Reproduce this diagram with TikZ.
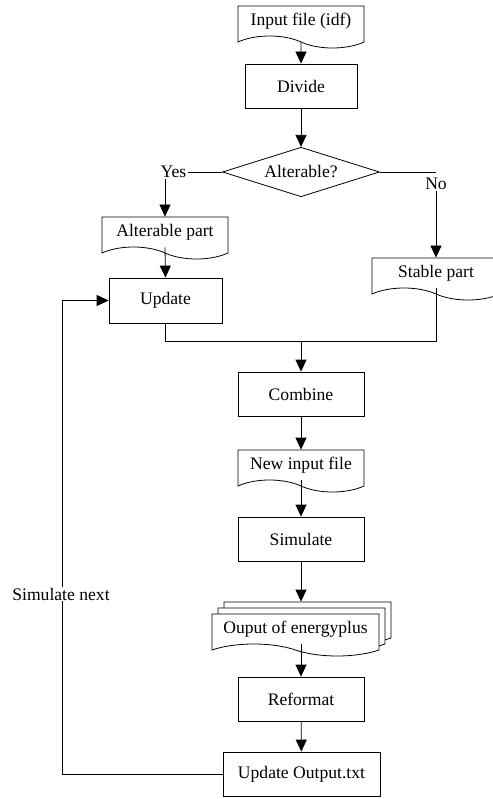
\documentclass[tikz,border=0pt]{standalone}
\usepackage{fontspec}
\setmainfont{Liberation Serif}
\usepackage{tikz}
\usetikzlibrary{shapes.geometric,shapes.symbols,shadows,arrows.meta,calc}

\newcommand{\flowfont}{\fontsize{17.6}{21}\selectfont}

\begin{document}
\begin{tikzpicture}[x=1pt,y=1pt,line width=0.8pt,
                    proc/.style={rectangle,draw=black,fill=white,minimum width=126,minimum height=44,font=\flowfont},
                    docu/.style={tape,draw=black,fill=white,tape bend top=none,tape bend bottom=out and in,
                                 tape bend height=12,minimum width=126,minimum height=42,font=\flowfont},
                    decide/.style={diamond,draw=black,fill=white,aspect=2.15,minimum width=157,inner sep=1pt,font=\flowfont},
                    lbl/.style={font=\flowfont,inner sep=1pt},
                    flow/.style={-{Triangle[length=12,width=11]}}
                ]
                    \useasboundingbox (0,0) rectangle (492,-799);
                    % main column
                    \node[docu] (input) at (301,-21) {Input file (idf)};
                    \node[proc,minimum width=112] (divide) at (301,-86) {Divide};
                    \node[decide] (alter) at (301,-172) {Alterable?};
                    \node[lbl] (yes) at (173.5,-172) {Yes};
                    \node[lbl] (no) at (436,-184) {No};
                    \node[docu] (apart) at (165,-232) {Alterable part};
                    \node[proc,minimum width=113,minimum height=45] (update) at (165.5,-300.5) {Update};
                    \node[docu,minimum width=128] (spart) at (436,-273) {Stable part};
                    \node[proc] (combine) at (301,-394) {Combine};
                    \node[docu] (newin) at (301,-465) {New input file};
                    \node[proc] (sim) at (301,-539) {Simulate};
                    \node[docu,minimum width=167,
                          double copy shadow={shadow xshift=6,shadow yshift=6,fill=white,draw=black}]
                          (out) at (295.5,-629) {Ouput of energyplus};
                    \node[proc] (reform) at (301,-699) {Reformat};
                    \node[proc,minimum width=157] (updout) at (301.5,-774) {Update Output.txt};
                    \coordinate (outtop) at ($(out.north)+(0,12)$);
                    \coordinate (join) at ($(update.south)+(0,-18)$);
                    \coordinate (back) at (62,-774);
                    % connectors
                    \draw[flow] (input) -- (divide);
                    \draw[flow] (divide) -- (alter);
                    \draw (alter.west) -- (yes.east);
                    \draw[flow] (yes.south -| apart.north) -- (apart.north);
                    \draw (alter.east) -- (alter.east -| no.north);
                    \draw[flow] (no.south) -- (spart.north);
                    \draw[flow] (apart.south) -- (update.north);
                    \draw (update.south) -- (join) -- (join -| spart.south) -- (spart.south);
                    \draw[flow] (join -| combine.north) -- (combine.north);
                    \draw[flow] (combine) -- (newin);
                    \draw[flow] (newin.south) -- (sim.north);
                    \draw[flow] (sim.south) -- (sim.south |- outtop);
                    \draw[flow] (reform.north |- out.south) -- (reform.north);
                    \draw[flow] (reform) -- (updout);
                    \draw[flow] (updout.west) -- (back) -- (back |- update.west) -- (update.west);
                    \node[lbl,fill=white] (simnext) at (61,-594) {Simulate next};
                \end{tikzpicture}
\end{document}
